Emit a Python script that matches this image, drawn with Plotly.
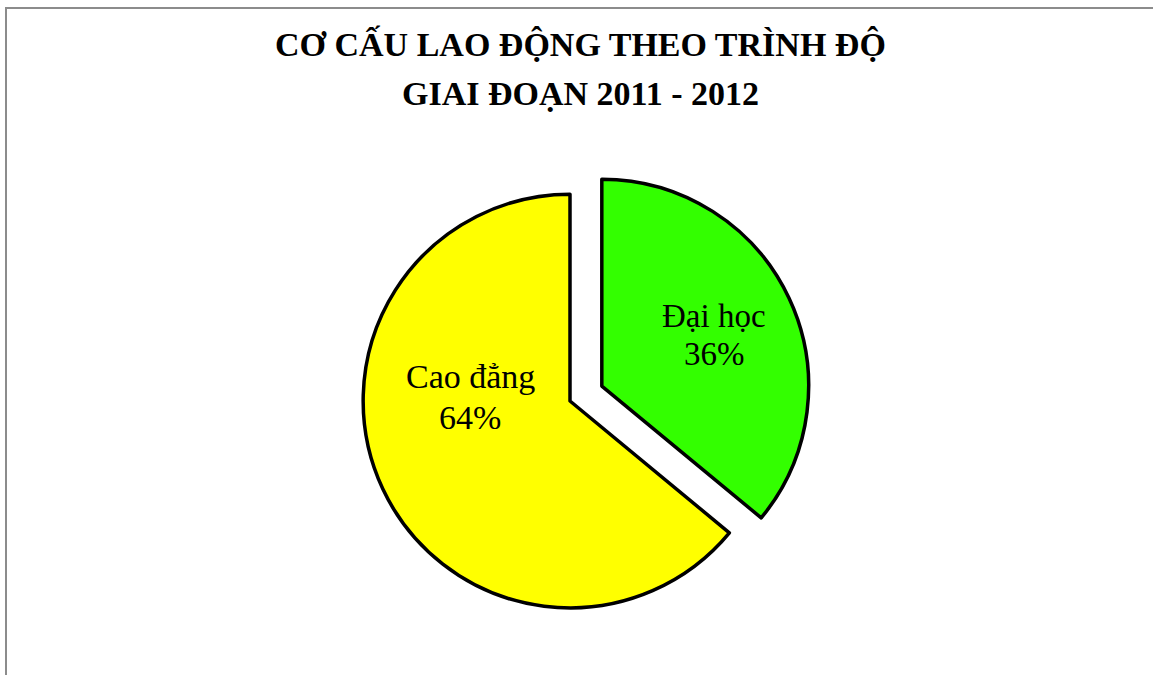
import plotly.graph_objects as go

labels = ["Đại học", "Cao đẳng"]
values = [36, 64]
colors = ["#33FF00", "#FFFF00"]
pulls = [0.17, 0]
title_lines = ["CƠ CẤU LAO ĐỘNG THEO TRÌNH ĐỘ", "GIAI ĐOẠN 2011 - 2012"]

W, H = 1153, 675

fig = go.Figure(go.Pie(
    labels=labels,
    values=values,
    sort=False,
    direction="clockwise",
    rotation=0,
    pull=pulls,
    marker=dict(colors=colors, line=dict(color="black", width=3.5)),
    textinfo="none",
    domain=dict(x=[328 / W, 812 / W], y=[32 / H, 516 / H]),
    showlegend=False,
    hoverinfo="label+percent",
))

total = sum(values)
# label anchor positions (pixel centres) for the slice labels
label_pos = {"Đại học": ((714, 316), (714, 354)), "Cao đẳng": ((470, 376), (470, 417))}
label_size = {"Đại học": 33, "Cao đẳng": 34}

annotations = []
for lab, val in zip(labels, values):
    (x1, y1), (x2, y2) = label_pos[lab]
    for txt, (xx, yy) in ((lab, (x1, y1)), (f"{round(100 * val / total)}%", (x2, y2))):
        annotations.append(dict(
            text=txt, xref="paper", yref="paper",
            x=xx / W, y=1 - yy / H, xanchor="center", yanchor="middle",
            showarrow=False,
            font=dict(family="Liberation Serif", size=label_size[lab], color="black"),
        ))

for txt, yy in zip(title_lines, (44, 93)):
    annotations.append(dict(
        text=f"<b>{txt}</b>", xref="paper", yref="paper",
        x=580 / W, y=1 - yy / H, xanchor="center", yanchor="middle",
        showarrow=False,
        font=dict(family="Liberation Serif", size=34, color="black"),
    ))

fig.update_layout(
    width=W, height=H,
    margin=dict(l=0, r=0, t=0, b=0),
    paper_bgcolor="white",
    plot_bgcolor="white",
    annotations=annotations,
    shapes=[dict(
        type="rect", xref="paper", yref="paper",
        x0=6 / W, x1=1.05, y0=-0.05, y1=1 - 8 / H,
        line=dict(color="#8c8c8c", width=2),
    )],
)

fig.write_html("out.html")
